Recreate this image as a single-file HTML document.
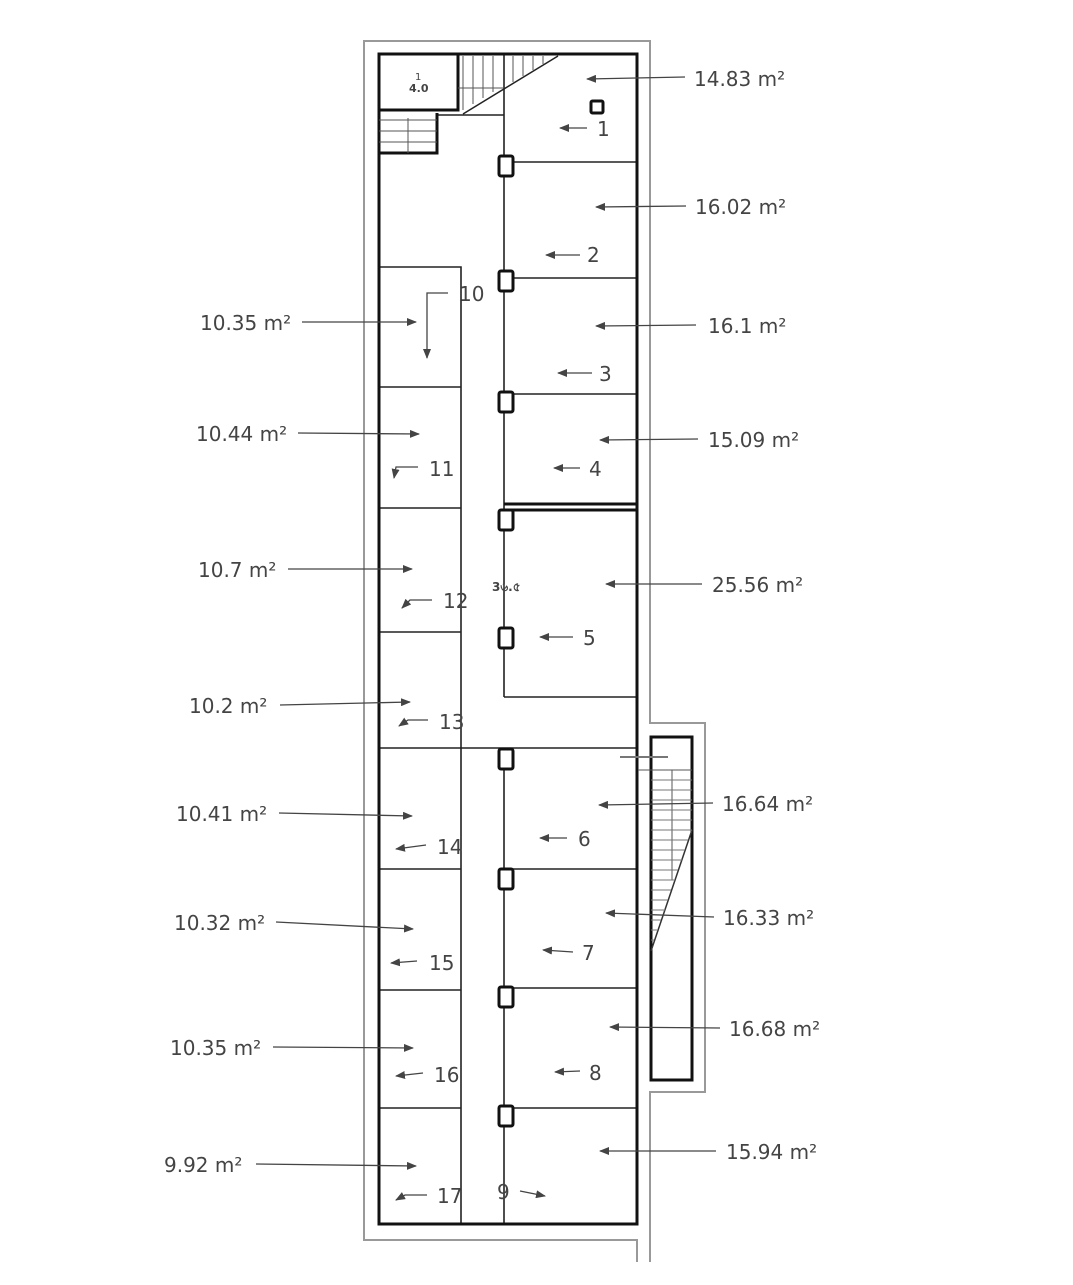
<!DOCTYPE html>
<html><head><meta charset="utf-8"><style>
html,body{margin:0;padding:0;background:#fff;}
text{font-family:"DejaVu Sans","Liberation Sans",sans-serif;fill:#444;font-size:20px;}
</style></head><body>
<svg width="1073" height="1280" viewBox="0 0 1073 1280" xmlns="http://www.w3.org/2000/svg">
<defs>
<marker id="a" markerWidth="10" markerHeight="8" refX="9" refY="4" orient="auto" markerUnits="userSpaceOnUse">
<path d="M0,0 L10,4 L0,8 Z" fill="#444"/></marker>
</defs>
<!-- outer grey outline -->
<g fill="none" stroke="#999" stroke-width="2">
<polyline points="637,1262 637,1240 364,1240 364,41 650,41 650,723 705,723 705,1092 650,1092 650,1262"/>
</g>
<!-- thin inner walls -->
<g stroke="#222" stroke-width="1.6" fill="none">
<line x1="504" y1="54" x2="504" y2="697"/>
<line x1="504" y1="748" x2="504" y2="1225"/>
<line x1="504" y1="162" x2="637" y2="162"/>
<line x1="504" y1="278" x2="637" y2="278"/>
<line x1="504" y1="394" x2="637" y2="394"/>
<line x1="504" y1="697" x2="637" y2="697"/>
<line x1="379" y1="748" x2="637" y2="748"/>
<line x1="504" y1="869" x2="637" y2="869"/>
<line x1="504" y1="988" x2="637" y2="988"/>
<line x1="504" y1="1108" x2="637" y2="1108"/>
<polyline points="379,267 461,267 461,1225"/>
<line x1="379" y1="387" x2="461" y2="387"/>
<line x1="379" y1="508" x2="461" y2="508"/>
<line x1="379" y1="632" x2="461" y2="632"/>
<line x1="379" y1="869" x2="461" y2="869"/>
<line x1="379" y1="990" x2="461" y2="990"/>
<line x1="379" y1="1108" x2="461" y2="1108"/>
<line x1="437" y1="115" x2="504" y2="115"/>
</g>
<!-- thick walls -->
<g stroke="#111" stroke-width="3" fill="none">
<rect x="379" y="54" width="258" height="1170"/>
<line x1="504" y1="504" x2="637" y2="504"/>
<line x1="504" y1="510" x2="637" y2="510"/>
<polyline points="379,110 458,110 458,54"/>
<polyline points="379,153 437,153 437,113"/>
<rect x="651" y="737" width="41" height="343"/>
</g>
<!-- top stairs -->
<g stroke="#555" stroke-width="1">
<line x1="379" y1="120" x2="437" y2="120"/><line x1="379" y1="131" x2="437" y2="131"/><line x1="379" y1="142" x2="437" y2="142"/>
<line x1="408" y1="153" x2="408" y2="118"/>
<line x1="463" y1="56" x2="463" y2="110"/><line x1="473" y1="56" x2="473" y2="104"/><line x1="483" y1="56" x2="483" y2="98"/><line x1="493" y1="56" x2="493" y2="92"/><line x1="513" y1="56" x2="513" y2="82"/><line x1="523" y1="56" x2="523" y2="76"/><line x1="533" y1="56" x2="533" y2="70"/><line x1="543" y1="56" x2="543" y2="64"/>
<line x1="458" y1="88" x2="504" y2="88"/>
<line x1="463" y1="114" x2="558" y2="56" stroke="#222" stroke-width="1.5"/>
<!-- right stairs -->
<line x1="620" y1="757" x2="668" y2="757" stroke="#777" stroke-width="2"/>
<line x1="638" y1="770" x2="692" y2="770"/>
<line x1="672" y1="770" x2="672" y2="880"/>
<line x1="651" y1="951" x2="692" y2="830" stroke="#333" stroke-width="1.5"/>
</g>
<g stroke="#777" stroke-width="1">
<line x1="651" y1="780" x2="692" y2="780"/><line x1="651" y1="790" x2="692" y2="790"/><line x1="651" y1="800" x2="692" y2="800"/><line x1="651" y1="810" x2="692" y2="810"/><line x1="651" y1="820" x2="692" y2="820"/><line x1="651" y1="830" x2="692" y2="830"/><line x1="651" y1="840" x2="688" y2="840"/><line x1="651" y1="850" x2="685" y2="850"/><line x1="651" y1="860" x2="682" y2="860"/><line x1="651" y1="870" x2="678" y2="870"/><line x1="651" y1="880" x2="675" y2="880"/><line x1="651" y1="890" x2="671" y2="890"/><line x1="651" y1="900" x2="668" y2="900"/><line x1="651" y1="910" x2="665" y2="910"/><line x1="651" y1="920" x2="661" y2="920"/><line x1="651" y1="930" x2="658" y2="930"/><line x1="651" y1="940" x2="654" y2="940"/>
</g>
<!-- columns -->
<g fill="#fff" stroke="#111" stroke-width="3">
<rect x="499" y="156" width="14" height="20" rx="2"/>
<rect x="499" y="271" width="14" height="20" rx="2"/>
<rect x="499" y="392" width="14" height="20" rx="2"/>
<rect x="499" y="510" width="14" height="20" rx="2"/>
<rect x="499" y="628" width="14" height="20" rx="2"/>
<rect x="499" y="749" width="14" height="20" rx="2"/>
<rect x="499" y="869" width="14" height="20" rx="2"/>
<rect x="499" y="987" width="14" height="20" rx="2"/>
<rect x="499" y="1106" width="14" height="20" rx="2"/>
<rect x="591" y="101" width="12" height="12" rx="1.5"/>
</g>
<text x="409" y="92" style="font-size:11px;font-weight:bold">4.0</text>
<text x="415" y="80" style="font-size:10px">1</text>
<text x="492" y="591" style="font-size:12px;font-weight:bold">3৬.৫</text>
<!-- arrows -->
<g stroke="#444" stroke-width="1.3" fill="none" marker-end="url(#a)">
<line x1="685" y1="77" x2="587" y2="79"/>
<line x1="686" y1="206" x2="596" y2="207"/>
<line x1="696" y1="325" x2="596" y2="326"/>
<line x1="698" y1="439" x2="600" y2="440"/>
<line x1="702" y1="584" x2="606" y2="584"/>
<line x1="713" y1="803" x2="599" y2="805"/>
<line x1="714" y1="917" x2="606" y2="913"/>
<line x1="720" y1="1028" x2="610" y2="1027"/>
<line x1="716" y1="1151" x2="600" y2="1151"/>
<line x1="302" y1="322" x2="416" y2="322"/>
<line x1="298" y1="433" x2="419" y2="434"/>
<line x1="288" y1="569" x2="412" y2="569"/>
<line x1="280" y1="705" x2="410" y2="702"/>
<line x1="279" y1="813" x2="412" y2="816"/>
<line x1="276" y1="922" x2="413" y2="929"/>
<line x1="273" y1="1047" x2="413" y2="1048"/>
<line x1="256" y1="1164" x2="416" y2="1166"/>
<line x1="587" y1="128" x2="560" y2="128"/>
<line x1="580" y1="255" x2="546" y2="255"/>
<line x1="592" y1="373" x2="558" y2="373"/>
<line x1="580" y1="468" x2="554" y2="468"/>
<line x1="573" y1="637" x2="540" y2="637"/>
<line x1="567" y1="838" x2="540" y2="838"/>
<line x1="573" y1="952" x2="543" y2="950"/>
<line x1="580" y1="1071" x2="555" y2="1072"/>
<line x1="520" y1="1191" x2="545" y2="1196"/>
<polyline points="448,293 427,293 427,358"/>
<polyline points="418,467 396,467 394,478"/>
<polyline points="432,600 410,600 402,608"/>
<polyline points="428,720 408,720 399,726"/>
<line x1="426" y1="845" x2="396" y2="849"/>
<line x1="417" y1="961" x2="391" y2="963"/>
<line x1="423" y1="1073" x2="396" y2="1076"/>
<polyline points="427,1195 405,1195 396,1200"/>
</g>
<!-- labels -->
<text x="694" y="86">14.83 m²</text>
<text x="695" y="214">16.02 m²</text>
<text x="708" y="333">16.1 m²</text>
<text x="708" y="447">15.09 m²</text>
<text x="712" y="592">25.56 m²</text>
<text x="722" y="811">16.64 m²</text>
<text x="723" y="925">16.33 m²</text>
<text x="729" y="1036">16.68 m²</text>
<text x="726" y="1159">15.94 m²</text>
<text x="200" y="330">10.35 m²</text>
<text x="196" y="441">10.44 m²</text>
<text x="198" y="577">10.7 m²</text>
<text x="189" y="713">10.2 m²</text>
<text x="176" y="821">10.41 m²</text>
<text x="174" y="930">10.32 m²</text>
<text x="170" y="1055">10.35 m²</text>
<text x="164" y="1172">9.92 m²</text>
<text x="597" y="136">1</text>
<text x="587" y="262">2</text>
<text x="599" y="381">3</text>
<text x="589" y="476">4</text>
<text x="583" y="645">5</text>
<text x="578" y="846">6</text>
<text x="582" y="960">7</text>
<text x="589" y="1080">8</text>
<text x="497" y="1199">9</text>
<text x="459" y="301">10</text>
<text x="429" y="476">11</text>
<text x="443" y="608">12</text>
<text x="439" y="729">13</text>
<text x="437" y="854">14</text>
<text x="429" y="970">15</text>
<text x="434" y="1082">16</text>
<text x="437" y="1203">17</text>
</svg>
</body></html>
